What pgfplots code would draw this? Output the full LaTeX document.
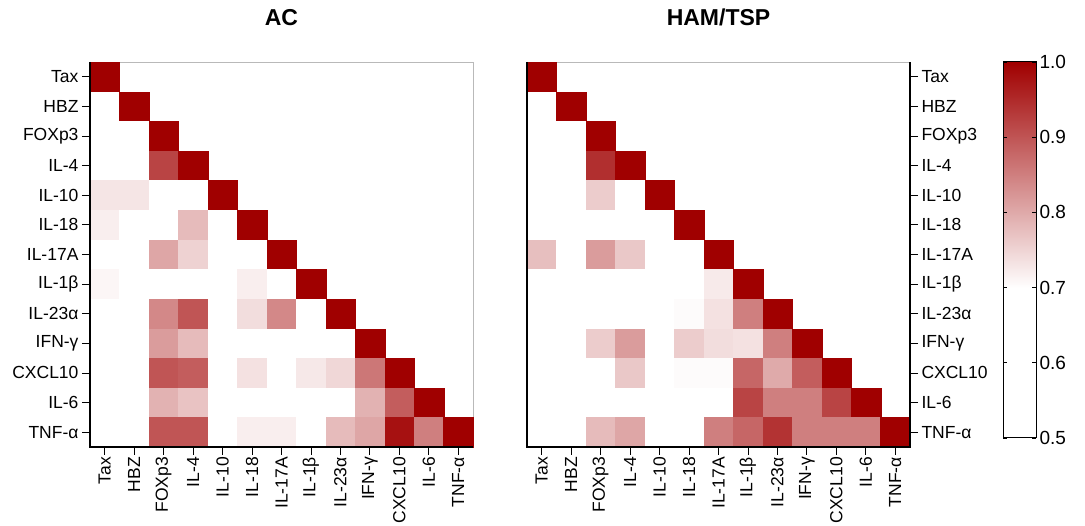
\documentclass[border=0pt]{standalone}
\usepackage{fontspec}
\setmainfont{Liberation Sans}
\usepackage{pgfplots}
\pgfplotsset{compat=1.18}

\pgfplotsset{
  colormap={whitered}{rgb255(0)=(255,255,255); rgb255(2)=(255,255,255); rgb255(5)=(160,0,0)},
  heat/.style={
    scale only axis, width=383pt, height=385pt,
    xmin=-0.5, xmax=12.5, ymin=-0.5, ymax=12.5, y dir=reverse,
    enlargelimits=false,
    xtick={0,...,12}, ytick={0,...,12},
    xticklabels={Tax,HBZ,FOXp3,IL-4,IL-10,IL-18,IL-17A,IL-1β,IL-23α,IFN-γ,CXCL10,IL-6,TNF-α},
    yticklabels={Tax,HBZ,FOXp3,IL-4,IL-10,IL-18,IL-17A,IL-1β,IL-23α,IFN-γ,CXCL10,IL-6,TNF-α},
    tick label style={font=\fontsize{17.5}{20}\selectfont},
    xticklabel style={rotate=90, anchor=east, inner sep=2pt},
    tick align=outside, major tick length=8pt,
    every tick/.style={black, line width=0.9pt},
    xtick pos=lower,
    axis line style={gray!55, line width=0.8pt},
    point meta min=0.5, point meta max=1,
    title style={at={(0.5,1)}, anchor=base, yshift=30pt, font=\bfseries\fontsize{23}{27}\selectfont},
    clip=false,
  },
  cells/.style={scatter, only marks, mark=square*, mark size=14.75pt,
    point meta=explicit,
    scatter/use mapped color={draw=mapped color, fill=mapped color},
    mark options={line width=0.1pt}},
}

\begin{document}
\begin{tikzpicture}
\path[use as bounding box] (-90pt,-79pt) rectangle (995pt,447pt);
\begin{axis}[heat, at={(0pt,0pt)}, anchor=south west, title={AC},
  ytick pos=lower,
  extra description/.code={\draw[black, line width=1.6pt] (0,1) -- (0,0) -- (1,0);}]
\addplot[cells] coordinates {
(0,0)[1]
(0,1)[0.6] (1,1)[1]
(0,2)[0.6] (1,2)[0.6] (2,2)[1]
(0,3)[0.6] (1,3)[0.6] (2,3)[0.92] (3,3)[1]
(0,4)[0.73] (1,4)[0.73] (2,4)[0.6] (3,4)[0.6] (4,4)[1]
(0,5)[0.72] (1,5)[0.6] (2,5)[0.6] (3,5)[0.78] (4,5)[0.6] (5,5)[1]
(0,6)[0.6] (1,6)[0.6] (2,6)[0.805] (3,6)[0.753] (4,6)[0.6] (5,6)[0.6] (6,6)[1]
(0,7)[0.71] (1,7)[0.6] (2,7)[0.6] (3,7)[0.6] (4,7)[0.6] (5,7)[0.72] (6,7)[0.6] (7,7)[1]
(0,8)[0.6] (1,8)[0.6] (2,8)[0.84] (3,8)[0.90] (4,8)[0.6] (5,8)[0.74] (6,8)[0.84] (7,8)[0.6] (8,8)[1]
(0,9)[0.6] (1,9)[0.6] (2,9)[0.817] (3,9)[0.78] (4,9)[0.6] (5,9)[0.6] (6,9)[0.6] (7,9)[0.6] (8,9)[0.6] (9,9)[1]
(0,10)[0.6] (1,10)[0.6] (2,10)[0.90] (3,10)[0.89] (4,10)[0.6] (5,10)[0.735] (6,10)[0.6] (7,10)[0.727] (8,10)[0.747] (9,10)[0.86] (10,10)[1]
(0,11)[0.6] (1,11)[0.6] (2,11)[0.79] (3,11)[0.77] (4,11)[0.6] (5,11)[0.6] (6,11)[0.6] (7,11)[0.6] (8,11)[0.6] (9,11)[0.79] (10,11)[0.89] (11,11)[1]
(0,12)[0.6] (1,12)[0.6] (2,12)[0.90] (3,12)[0.90] (4,12)[0.6] (5,12)[0.72] (6,12)[0.72] (7,12)[0.6] (8,12)[0.78] (9,12)[0.805] (10,12)[0.98] (11,12)[0.85] (12,12)[1]
};
\end{axis}
\begin{axis}[heat, at={(437pt,0pt)}, anchor=south west, title={HAM/TSP},
  ytick pos=upper, yticklabel pos=upper,
  extra description/.code={\draw[black, line width=1.6pt] (0,1) -- (0,0) -- (1,0) -- (1,1);}]
\addplot[cells] coordinates {
(0,0)[1]
(0,1)[0.6] (1,1)[1]
(0,2)[0.6] (1,2)[0.6] (2,2)[1]
(0,3)[0.6] (1,3)[0.6] (2,3)[0.945] (3,3)[1]
(0,4)[0.6] (1,4)[0.6] (2,4)[0.76] (3,4)[0.6] (4,4)[1]
(0,5)[0.6] (1,5)[0.6] (2,5)[0.6] (3,5)[0.6] (4,5)[0.6] (5,5)[1]
(0,6)[0.775] (1,6)[0.6] (2,6)[0.817] (3,6)[0.765] (4,6)[0.6] (5,6)[0.6] (6,6)[1]
(0,7)[0.6] (1,7)[0.6] (2,7)[0.6] (3,7)[0.6] (4,7)[0.6] (5,7)[0.6] (6,7)[0.725] (7,7)[1]
(0,8)[0.6] (1,8)[0.6] (2,8)[0.6] (3,8)[0.6] (4,8)[0.6] (5,8)[0.705] (6,8)[0.735] (7,8)[0.85] (8,8)[1]
(0,9)[0.6] (1,9)[0.6] (2,9)[0.76] (3,9)[0.817] (4,9)[0.6] (5,9)[0.76] (6,9)[0.74] (7,9)[0.735] (8,9)[0.85] (9,9)[1]
(0,10)[0.6] (1,10)[0.6] (2,10)[0.6] (3,10)[0.765] (4,10)[0.6] (5,10)[0.705] (6,10)[0.705] (7,10)[0.88] (8,10)[0.80] (9,10)[0.89] (10,10)[1]
(0,11)[0.6] (1,11)[0.6] (2,11)[0.6] (3,11)[0.6] (4,11)[0.6] (5,11)[0.6] (6,11)[0.6] (7,11)[0.92] (8,11)[0.85] (9,11)[0.85] (10,11)[0.92] (11,11)[1]
(0,12)[0.6] (1,12)[0.6] (2,12)[0.78] (3,12)[0.805] (4,12)[0.6] (5,12)[0.6] (6,12)[0.85] (7,12)[0.88] (8,12)[0.94] (9,12)[0.85] (10,12)[0.85] (11,12)[0.85] (12,12)[1]
};
\end{axis}
% colour scale
\begin{axis}[at={(913pt,9pt)}, anchor=south west,
  scale only axis, width=33pt, height=376pt,
  xmin=0, xmax=1, ymin=0.5, ymax=1, enlargelimits=false,
  xtick=\empty, ytick={0.5,0.6,0.7,0.8,0.9,1.0},
  ytick pos=both, yticklabel pos=right,
  yticklabel style={font=\fontsize{19}{22}\selectfont,
    /pgf/number format/.cd, fixed, fixed zerofill, precision=1, assume math mode=true},
  tick align=inside, major tick length=4pt,
  every tick/.style={black, line width=0.6pt},
  axis line style={black, line width=1pt},
  axis on top,
  point meta min=0.5, point meta max=1]
\addplot[surf, shader=interp, point meta=y, mesh/cols=2] coordinates {
(0,0.5) (1,0.5)
(0,0.7) (1,0.7)
(0,1) (1,1)
};
\end{axis}
\end{tikzpicture}
\end{document}
